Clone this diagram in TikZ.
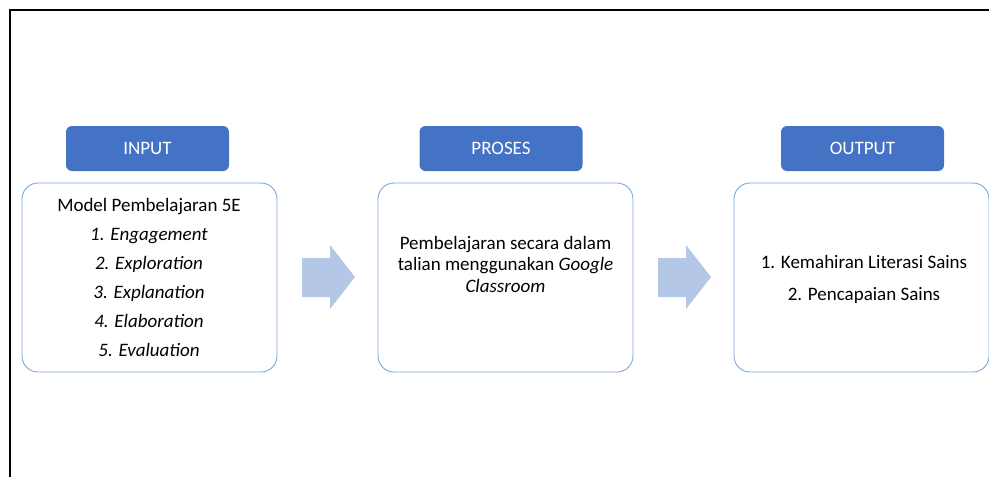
\documentclass[tikz,border=0pt]{standalone}
\usepackage{fontspec}
\setmainfont{Carlito}
\definecolor{hdr}{RGB}{68,114,196}
\definecolor{boxline}{RGB}{126,167,217}
\definecolor{arr}{RGB}{180,199,231}
\begin{document}
\begin{tikzpicture}[x=1pt,y=-1pt,
  hdrbox/.style={rectangle,rounded corners=6pt,fill=hdr,text=white,minimum width=163pt,minimum height=45pt,inner sep=0pt,font=\fontsize{19}{22}\selectfont},
  mainbox/.style={rectangle,rounded corners=16pt,draw=boxline,line width=0.9pt,fill=white,minimum width=255pt,minimum height=189pt,inner sep=0pt},
  txt/.style={align=center,inner sep=0pt}]
\useasboundingbox (0,0) rectangle (989,477);
\clip (0,0) rectangle (989,477);
\draw[line width=2pt] (10,480) -- (10,10) -- (995,10);
% headers
\node[hdrbox] (hin) at (147.5,148.5) {INPUT};
\node[hdrbox] (hpr) at (501,148.5) {PROSES};
\node[hdrbox] (hout) at (862.5,148.5) {OUTPUT};
% boxes
\node[mainbox] (bin) at (149.5,277.5) {};
\node[mainbox] (bpr) at (505.5,277.5) {};
\node[mainbox] (bout) at (861.5,277.5) {};
% texts
\node[txt,font=\fontsize{19}{29}\selectfont] (tin) at (149,277.5) {Model Pembelajaran 5E\\ \textit{1. Engagement}\\ \textit{2. Exploration}\\ \textit{3. Explanation}\\ \textit{4. Elaboration}\\ \textit{5. Evaluation}};
\node[txt,font=\fontsize{19}{21.5}\selectfont] (tpr) at (505.5,264) {Pembelajaran secara dalam\\ talian menggunakan \textit{Google}\\ \textit{Classroom}};
\node[txt,font=\fontsize{19}{32}\selectfont] (tout) at (864,279.5) {1. Kemahiran Literasi Sains\\ 2. Pencapaian Sains};
% block arrows
\fill[arr] (302,258) -- (330,258) -- (330,245) -- (355,277) -- (330,309) -- (330,297) -- (302,297) -- cycle;
\fill[arr] (658,258) -- (686,258) -- (686,245) -- (711,277) -- (686,309) -- (686,297) -- (658,297) -- cycle;
\end{tikzpicture}
\end{document}
